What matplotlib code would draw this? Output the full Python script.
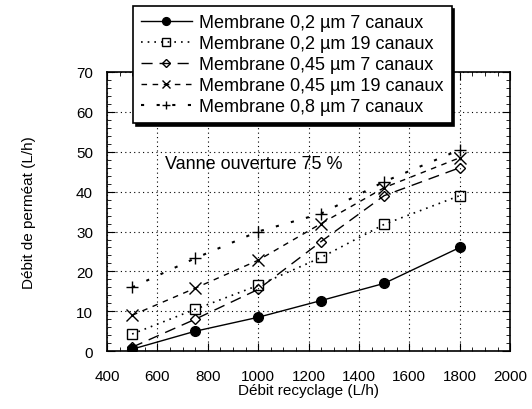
import numpy as np
import matplotlib.pyplot as plt
from matplotlib.ticker import MultipleLocator

plt.rcParams['font.family'] = ['Liberation Sans', 'DejaVu Sans']

debit = [500, 750, 1000, 1250, 1500, 1800]
m02_7 = [0.5, 5, 8.5, 12.7, 17, 26]
m02_19 = [4.3, 10.5, 16.5, 23.5, 31.8, 39]
m045_7 = [1, 8, 15.5, 27.5, 39, 46]
m045_19 = [9, 15.8, 22.8, 32, 41, 48.5]
m08_7 = [16, 23.3, 30, 34.5, 42.5, 50.5]

labels = ["Membrane 0,2 µm 7 canaux", "Membrane 0,2 µm 19 canaux",
          "Membrane 0,45 µm 7 canaux", "Membrane 0,45 µm 19 canaux",
          "Membrane 0,8 µm 7 canaux"]

fig = plt.figure(figsize=(5.32, 4.10), dpi=100)
ax = fig.add_axes([0.201, 0.141, 0.758, 0.681])

ax.plot(debit, m02_7, 'k-', marker='o', ms=7, lw=1, label=labels[0])
ax.plot(debit, m02_19, 'k', ls=(0, (1, 3)), marker='s', ms=7, mfc='none', lw=1.2, label=labels[1])
ax.plot(debit, m045_7, 'k', ls=(0, (8, 5)), marker='D', ms=5, mfc='none', lw=1, label=labels[2])
ax.plot(debit, m045_19, 'k', ls=(0, (4, 4)), marker='x', ms=8, lw=1, label=labels[3])
ax.plot(debit, m08_7, 'k', ls=(0, (1.5, 6)), marker='+', ms=8, lw=1.5, label=labels[4])

ax.set_xlim(400, 2000)
ax.set_ylim(0, 70)
ax.xaxis.set_major_locator(MultipleLocator(200))
ax.xaxis.set_minor_locator(MultipleLocator(50))
ax.yaxis.set_major_locator(MultipleLocator(10))
ax.yaxis.set_minor_locator(MultipleLocator(2))
ax.tick_params(which='both', direction='in', top=True, right=True, labelsize=11)
ax.tick_params(which='major', length=6)
ax.tick_params(which='minor', length=3)
ax.tick_params(axis='x', which='major', pad=13)
ax.tick_params(axis='y', which='major', pad=10)
ax.grid(True, which='major', color='k', ls=(0, (1, 3)), lw=0.8)
for s in ax.spines.values():
    s.set_linewidth(1.2)

ax.set_xlabel("Débit recyclage (L/h)", fontsize=11, labelpad=0)
ax.set_ylabel("Débit de perméat (L/h)", fontsize=11)
ax.yaxis.set_label_coords(-0.175, 0.5)

ax.text(630, 46, "Vanne ouverture 75 %", fontsize=13)

leg = ax.legend(loc='upper left', bbox_to_anchor=(0.25, 0.983), bbox_transform=fig.transFigure,
                borderaxespad=0, fontsize=13, frameon=True, fancybox=False,
                shadow={'color': 'k', 'alpha': 1}, handlelength=2.8,
                borderpad=0.45, labelspacing=0.22, handletextpad=0.4, markerscale=0.8)
leg.get_frame().set_edgecolor('k')
leg.get_frame().set_linewidth(1.2)
leg.get_frame().set_alpha(1)

fig.savefig("out.png", dpi=100)
